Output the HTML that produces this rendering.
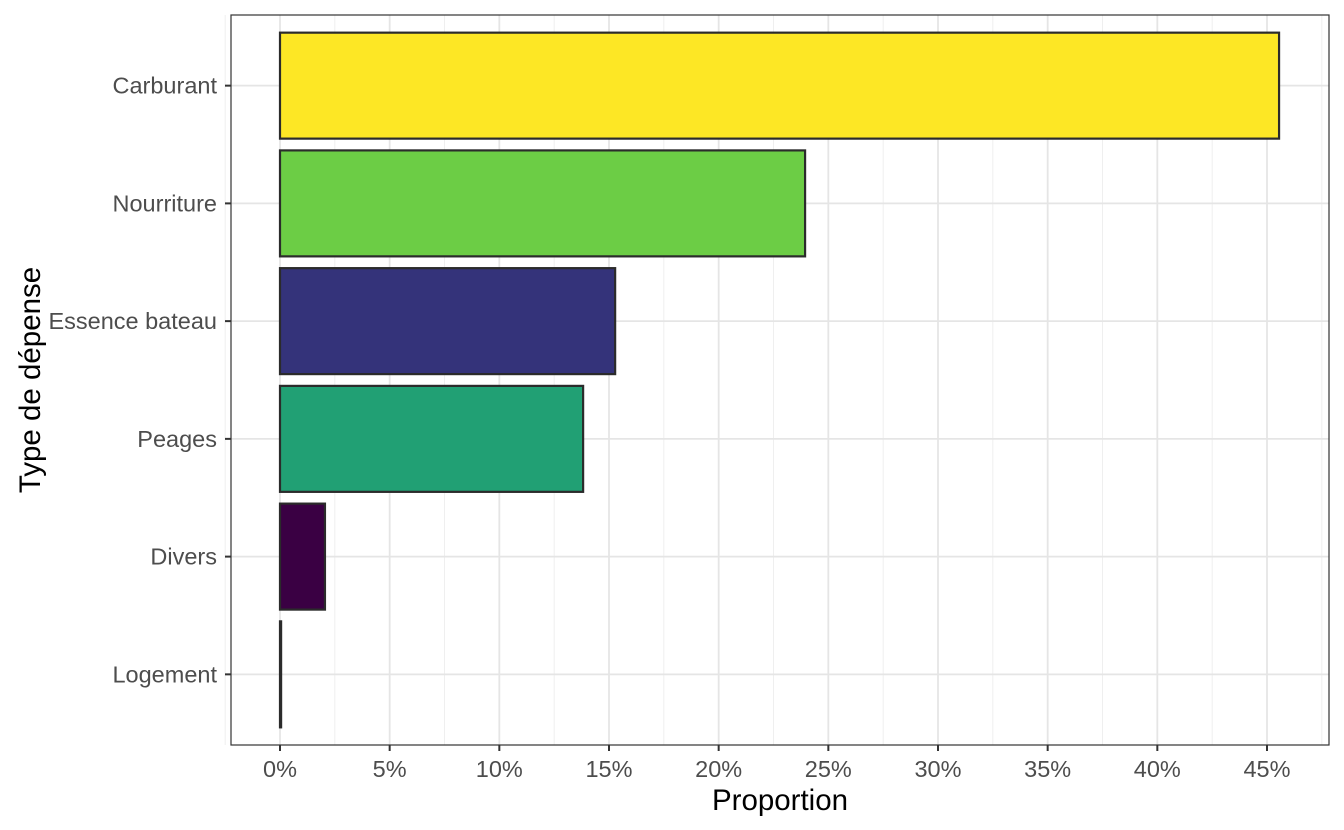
<!DOCTYPE html>
<html><head><meta charset="utf-8">
<style>
html,body{margin:0;padding:0;background:#fff;}
svg{display:block;font-family:"Liberation Sans",Arial,sans-serif;}
</style></head>
<body>
<svg id="chart" width="1344" height="830"></svg>
<script>
const categories = ["Logement","Divers","Peages","Essence bateau","Nourriture","Carburant"];
const values = [0.05, 2.05, 13.82, 15.28, 23.94, 45.55];
const colors = ["#440154","#3a0043","#21a074","#34337a","#6ccd45","#fde725"];
const xTicks = [0,5,10,15,20,25,30,35,40,45];
const xTickLabels = ["0%","5%","10%","15%","20%","25%","30%","35%","40%","45%"];

const NS="http://www.w3.org/2000/svg";
const svg=document.getElementById('chart');
const L=231,R=1329,T=15,B=745;
const x0=280, pxPer=(1267-280)/45;
function xs(v){return x0+v*pxPer;}
const step=(B-T)/(categories.length-1+1.2);
function yc(i){return B-step*(i+0.6);}
function mk(tag,attrs){const e=document.createElementNS(NS,tag);for(const k in attrs)e.setAttribute(k,attrs[k]);svg.appendChild(e);return e;}

// minor grid
for(let i=0;i<xTicks.length;i++){
  const m=xTicks[i]+2.5; const px=xs(m);
  if(px<R){const g=mk('line',{x1:px,x2:px,y1:T,y2:B,stroke:'#ebebeb','stroke-width':0.8});
  
  }
}
const gm=mk('line',{x1:xs(-2.5),x2:xs(-2.5),y1:T,y2:B,stroke:'#ebebeb','stroke-width':0.8});


// major grid
xTicks.forEach(t=>{const g=mk('line',{x1:xs(t),x2:xs(t),y1:T,y2:B,stroke:'#e5e5e5','stroke-width':1.8});

});
categories.forEach((c,i)=>{const g=mk('line',{x1:L,x2:R,y1:yc(i),y2:yc(i),stroke:'#e5e5e5','stroke-width':1.8});

});

// bars
const bh=step*0.9;
categories.forEach((c,i)=>{
  const w=Math.max(xs(values[i])-x0,0);
  const r=mk('rect',{x:x0,y:yc(i)-bh/2,width:w,height:bh,fill:colors[i],stroke:'#2b2b2b','stroke-width':2.2});
  
  
});

// panel border
const pb=mk('rect',{x:L,y:T,width:R-L,height:B-T,fill:'none',stroke:'#333','stroke-width':1.2});



// y ticks & labels
categories.forEach((c,i)=>{
  const tk=mk('line',{x1:L-6,x2:L,y1:yc(i),y2:yc(i),stroke:'#333','stroke-width':2});
  
  
  const t=mk('text',{x:L-14,y:yc(i)+8,'text-anchor':'end','font-size':23.5,fill:'#4d4d4d'});
  t.textContent=c;
  
  
});
// x ticks & labels
xTicks.forEach((v,i)=>{
  const tk=mk('line',{x1:xs(v),x2:xs(v),y1:B,y2:B+6,stroke:'#333','stroke-width':2});
  
  
  const t=mk('text',{x:xs(v),y:777,'text-anchor':'middle','font-size':23.5,fill:'#4d4d4d'});
  t.textContent=xTickLabels[i];
  
  
});
// titles
const xt=mk('text',{x:(L+R)/2,y:810,'text-anchor':'middle','font-size':29.5,fill:'#000'});
xt.textContent='Proportion';


const yt=mk('text',{x:0,y:0,'text-anchor':'middle','font-size':29.5,fill:'#000',transform:'translate(40,'+((T+B)/2)+') rotate(-90)'});
yt.textContent='Type de dépense';


</script>
</body></html>
